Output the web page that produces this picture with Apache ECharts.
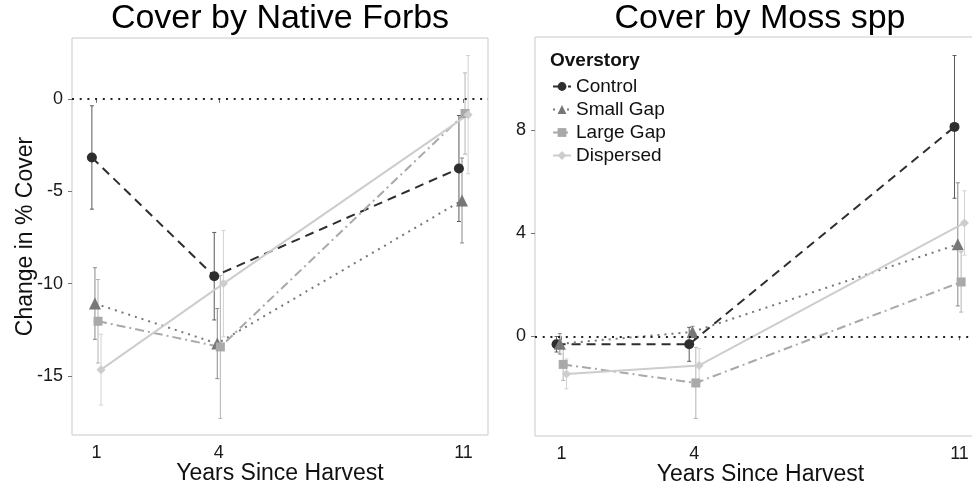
<!DOCTYPE html>
<html>
<head>
<meta charset="utf-8">
<title>Cover change by overstory treatment</title>
<script src="https://cdn.jsdelivr.net/npm/echarts@6/dist/echarts.min.js"></script>
<style>
  html, body { margin: 0; padding: 0; background: #ffffff; }
  #chart { width: 972px; height: 485px; }
</style>
</head>
<body>
<div id="chart"></div>
<script>
// ---- data -------------------------------------------------------------
const years = [1, 4, 11];
const groups = ['Control', 'Small Gap', 'Large Gap', 'Dispersed'];

// Cover by Native Forbs: mean change and error half-width per year
const forbsControl = [-3.17, -9.6, -3.77];
const forbsControlErr = [2.8, 2.37, 2.87];
const forbsSmallGap = [-11.08, -13.25, -5.5];
const forbsSmallGapErr = [1.94, 1.9, 2.3];
const forbsLargeGap = [-12.04, -13.43, -0.79];
const forbsLargeGapErr = [2.26, 3.87, 2.2];
const forbsDispersed = [-14.66, -10.0, -0.85];
const forbsDispersedErr = [1.92, 2.88, 3.2];

// Cover by Moss spp
const mossControl = [-0.31, -0.31, 8.13];
const mossControlErr = [0.3, 0.66, 2.77];
const mossSmallGap = [-0.29, 0.17, 3.57];
const mossSmallGapErr = [0.4, 0.22, 2.39];
const mossLargeGap = [-1.09, -1.81, 2.11];
const mossLargeGapErr = [0.62, 1.38, 1.17];
const mossDispersed = [-1.46, -1.13, 4.4];
const mossDispersedErr = [0.58, 0.65, 1.25];

const forbsTicks = [-15, -10, -5, 0];
const mossTicks = [0, 4, 8];

// ---- layout / styling -------------------------------------------------
// the year axis is laid out ordinally with 11 sitting two slots past 4
const yearSlot = { 1: 1, 4: 2, 11: 4 };
const slotYear = { 1: '1', 2: '4', 4: '11' };
const dodge = [-0.0375, -0.0125, 0.0125, 0.0375];
const FONT = '"Liberation Sans", Arial, Helvetica, sans-serif';

const look = [
  { color: '#2e2e2e', bar: '#5a5a5a', symbol: 'circle',   size: 10, dash: [9, 6] },
  { color: '#777777', bar: '#8a8a8a', symbol: 'triangle', size: 12, dash: [2, 5] },
  { color: '#a9a9a9', bar: '#b4b4b4', symbol: 'rect',     size: 9,  dash: [9, 4, 2, 4] },
  { color: '#cdcdcd', bar: '#d2d2d2', symbol: 'diamond',  size: 9,  dash: 'solid' }
];

function lineSeries(k, vals, gi, withZero) {
  const s = {
    type: 'line',
    name: groups[k],
    xAxisIndex: gi, yAxisIndex: gi,
    data: vals.map((v, i) => [yearSlot[years[i]] + dodge[k], v]),
    symbol: look[k].symbol,
    symbolSize: look[k].size,
    itemStyle: { color: look[k].color },
    lineStyle: { color: look[k].color, width: 2, type: look[k].dash },
    z: 4,
    animation: false
  };
  if (withZero) {
    s.markLine = {
      silent: true, symbol: 'none', label: { show: false },
      lineStyle: { type: [2, 5.7], color: '#222', width: 2 },
      data: [{ yAxis: 0 }],
      animation: false
    };
  }
  return s;
}

function errorSeries(k, vals, errs, gi) {
  const col = look[k].bar;
  return {
    type: 'custom',
    name: groups[k] + ' error',
    xAxisIndex: gi, yAxisIndex: gi,
    data: vals.map((v, i) => [yearSlot[years[i]] + dodge[k], v - errs[i], v + errs[i]]),
    encode: { x: 0, y: [1, 2] },
    silent: true,
    z: 3,
    animation: false,
    renderItem: function (params, api) {
      const x = api.value(0);
      const top = api.coord([x, api.value(2)]);
      const bot = api.coord([x, api.value(1)]);
      const c = 2;
      const st = { stroke: col, lineWidth: 1 };
      return {
        type: 'group',
        children: [
          { type: 'line', shape: { x1: top[0], y1: top[1], x2: bot[0], y2: bot[1] }, style: st },
          { type: 'line', shape: { x1: top[0] - c, y1: top[1], x2: top[0] + c, y2: top[1] }, style: st },
          { type: 'line', shape: { x1: bot[0] - c, y1: bot[1], x2: bot[0] + c, y2: bot[1] }, style: st }
        ]
      };
    }
  };
}

function xAxisFor(gi) {
  return {
    type: 'value', gridIndex: gi, min: 0.8, max: 4.2,
    name: 'Years Since Harvest', nameLocation: 'middle', nameGap: 27,
    nameMoveOverlap: false,
    nameTextStyle: { fontFamily: FONT, fontSize: 23, color: '#111' },
    axisLine: { show: false },
    splitLine: { show: false },
    axisTick: { show: true, length: 4, customValues: [1, 2, 4], lineStyle: { color: '#777' } },
    axisLabel: {
      customValues: [1, 2, 4], margin: 9,
      fontFamily: FONT, fontSize: 18, color: '#1a1a1a',
      formatter: v => slotYear[v] || ''
    }
  };
}

function yAxisFor(gi, min, max, ticks, name) {
  return {
    type: 'value', gridIndex: gi, min: min, max: max,
    name: name || '', nameLocation: 'middle', nameGap: 35,
    nameMoveOverlap: false,
    nameTextStyle: { fontFamily: FONT, fontSize: 23, color: '#111' },
    axisLine: { show: false },
    splitLine: { show: false },
    axisTick: { show: true, length: 4, customValues: ticks, lineStyle: { color: '#777' } },
    axisLabel: {
      customValues: ticks, margin: 9,
      fontFamily: FONT, fontSize: 18, color: '#1a1a1a'
    }
  };
}

const forbs = [
  [forbsControl, forbsControlErr],
  [forbsSmallGap, forbsSmallGapErr],
  [forbsLargeGap, forbsLargeGapErr],
  [forbsDispersed, forbsDispersedErr]
];
const moss = [
  [mossControl, mossControlErr],
  [mossSmallGap, mossSmallGapErr],
  [mossLargeGap, mossLargeGapErr],
  [mossDispersed, mossDispersedErr]
];

const series = [];
[forbs, moss].forEach((panel, gi) => {
  panel.forEach((d, k) => series.push(errorSeries(k, d[0], d[1], gi)));
  panel.forEach((d, k) => series.push(lineSeries(k, d[0], gi, k === 0)));
});

const option = {
  backgroundColor: '#ffffff',
  animation: false,
  textStyle: { fontFamily: FONT },
  grid: [
    { left: 72, top: 38, width: 416, height: 397, outerBoundsMode: 'none', containLabel: false,
      show: true, borderColor: '#c9c9c9', borderWidth: 1, backgroundColor: 'transparent' },
    { left: 535, top: 37, width: 451, height: 399, outerBoundsMode: 'none', containLabel: false,
      show: true, borderColor: '#c9c9c9', borderWidth: 1, backgroundColor: 'transparent' }
  ],
  xAxis: [xAxisFor(0), xAxisFor(1)],
  yAxis: [
    yAxisFor(0, -18.2, 3.3, forbsTicks, 'Change in % Cover'),
    yAxisFor(1, -3.87, 11.62, mossTicks, '')
  ],
  legend: {
    show: true,
    data: groups,
    orient: 'vertical',
    left: 547, top: 72,
    itemWidth: 18, itemHeight: 11, itemGap: 4,
    textStyle: { fontFamily: FONT, fontSize: 19, color: '#111', lineHeight: 19 },
    selectedMode: false
  },
  graphic: [
    { type: 'text', x: 280, y: 19, style: { text: 'Cover by Native Forbs', fontFamily: FONT, fontSize: 34, fill: '#000', textAlign: 'center', textVerticalAlign: 'middle' } },
    { type: 'text', x: 760, y: 19, style: { text: 'Cover by Moss spp', fontFamily: FONT, fontSize: 34, fill: '#000', textAlign: 'center', textVerticalAlign: 'middle' } },
    { type: 'text', x: 550, y: 61, style: { text: 'Overstory', fontFamily: FONT, fontSize: 19, fontWeight: 'bold', fill: '#111', textAlign: 'left', textVerticalAlign: 'middle' } }
  ],
  series: series
};

const chart = echarts.init(document.getElementById('chart'), null, { renderer: 'canvas' });
chart.setOption(option);
</script>
</body>
</html>
